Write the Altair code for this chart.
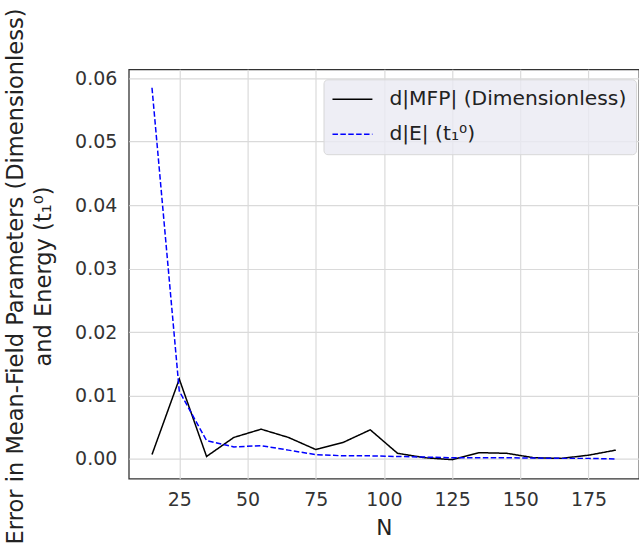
import altair as alt
import pandas as pd

N = [15, 25, 35, 45, 55, 65, 75, 85, 95, 105, 115, 125, 135, 145, 155, 165, 175, 185]
d_mfp = [0.0007, 0.0126, 0.0004, 0.0034, 0.0047, 0.0034, 0.0015, 0.0026, 0.0046, 0.0009,
         0.0002, -0.0001, 0.0010, 0.0009, 0.0002, 0.0001, 0.0006, 0.0014]
d_e = [0.0585, 0.0107, 0.0029, 0.0019, 0.0021, 0.0014, 0.0007, 0.0005, 0.0005, 0.0004,
       0.0003, 0.0002, 0.0002, 0.0002, 0.00015, 0.0001, 0.0001, 0.0000]
series_names = ["d|MFP| (Dimensionless)", "d|E| (t₁⁰)"]
x_ticks = [25, 50, 75, 100, 125, 150, 175]
y_ticks = [0.0, 0.01, 0.02, 0.03, 0.04, 0.05, 0.06]

rows = []
for n, a, b in zip(N, d_mfp, d_e):
    rows.append({"N": n, "value": a, "series": series_names[0]})
    rows.append({"N": n, "value": b, "series": series_names[1]})
df = pd.DataFrame(rows)

FONT = "DejaVu Sans"

chart = alt.Chart(df).mark_line(strokeWidth=1.5, clip=True).encode(
    x=alt.X("N:Q", scale=alt.Scale(domain=[6.5, 193.5], nice=False, zero=False),
            axis=alt.Axis(values=x_ticks, title="N", format="d")),
    y=alt.Y("value:Q", scale=alt.Scale(domain=[-0.0031, 0.0614], nice=False, zero=False),
            axis=alt.Axis(values=y_ticks, format=".2f",
                          title=["Error in Mean-Field Parameters (Dimensionless)", "and Energy (t₁⁰)"])),
    color=alt.Color("series:N", scale=alt.Scale(domain=series_names, range=["#000000", "#0000ff"]),
                    legend=alt.Legend(title=None, orient="none", legendX=195, legendY=10,
                                      symbolType="M-1.1,0H2.9", symbolSize=400, symbolStrokeWidth=1.5,
                                      labelFontSize=20.3, labelColor="#222222", labelFont=FONT,
                                      labelLimit=400, labelOffset=35, padding=9, rowPadding=13,
                                      fillColor="rgba(234,234,242,0.8)", strokeColor="#d8d8d8",
                                      cornerRadius=4)),
    strokeDash=alt.StrokeDash("series:N", scale=alt.Scale(domain=series_names, range=[[1, 0], [5.5, 2.4]]),
                              legend=None),
).properties(
    width=511, height=410,
    autosize=alt.AutoSizeParams(type="none"),
    padding={"left": 129, "top": 69, "right": 0, "bottom": 75},
).configure_view(
    stroke="#333333", strokeWidth=1.3, fill="white"
).configure_axis(
    grid=True, gridColor="#dadada", gridWidth=1.2,
    domain=False, ticks=False,
    labelFont=FONT, labelFontSize=19, labelColor="#333333", labelPadding=12,
    titleFont=FONT, titleFontSize=21.7, titleColor="#222222", titleFontWeight="normal",
).configure_axisY(
    titleX=-113, titleY=207, titleBaseline="middle", titleLineHeight=28, titleAngle=-90,
    titleFontSize=22.6,
).configure_axisX(
    titlePadding=8,
)

chart.save("out.html", embed_options={"renderer": "svg", "actions": False})
